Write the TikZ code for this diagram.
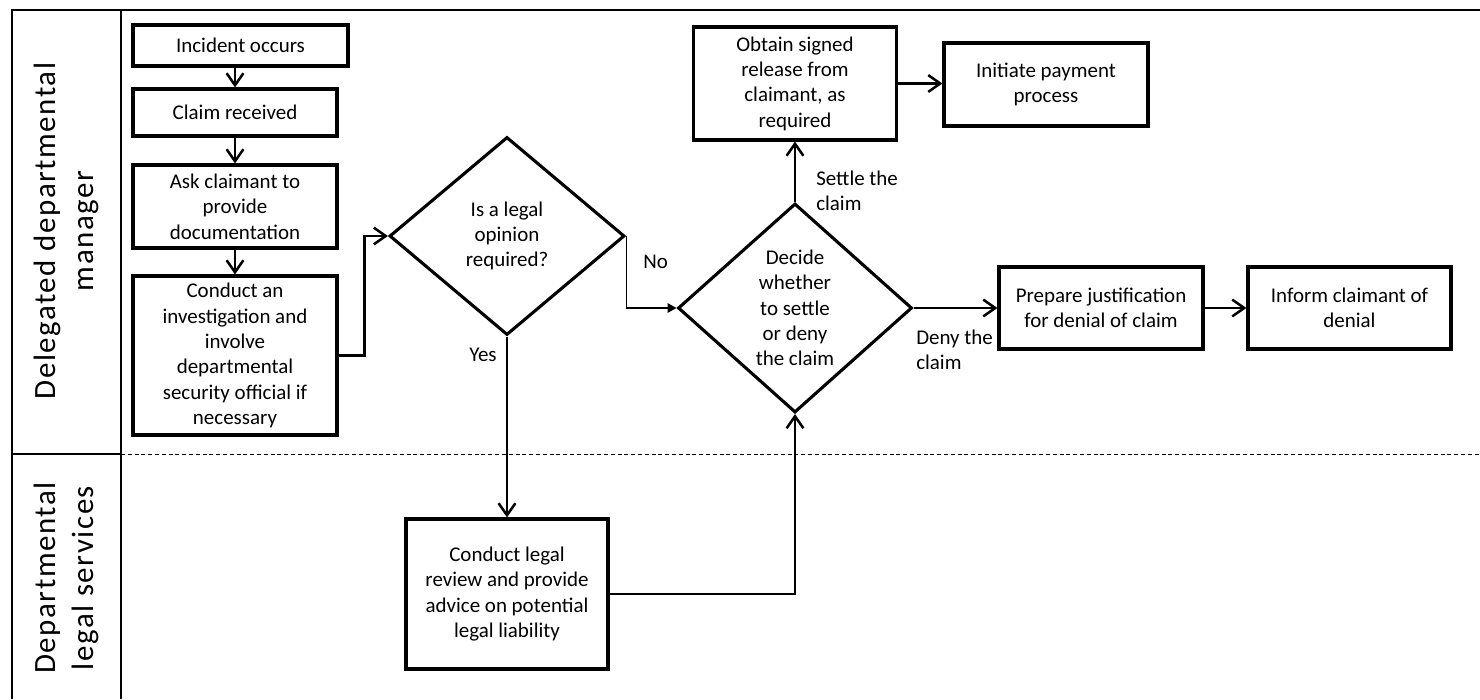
\documentclass[tikz,border=0pt]{standalone}
\usepackage{fontspec}
\setmainfont{Carlito}
\newfontfamily\lanefont[LetterSpace=5]{Carlito}
\usetikzlibrary{arrows.meta,shapes.geometric}

\tikzset{
    stepbox/.style={draw, line width=2.2pt, inner sep=0pt, align=center,
        font=\fontsize{14.9}{18}\selectfont},
    choice/.style={draw, shape=diamond, line width=2.2pt, inner sep=0pt, align=center,
        font=\fontsize{14.9}{18}\selectfont},
    flow/.style={line width=1.8pt, -{Straight Barb[length=3mm,width=4.2mm,line width=1.8pt]}},
    thinflow/.style={line width=0.8pt, -{Triangle[length=2.2mm,width=2.4mm]}},
    lbl/.style={align=left, inner sep=0pt, font=\fontsize{14.9}{18}\selectfont},
    lane/.style={rotate=90, align=center, inner sep=0pt, font=\lanefont\fontsize{22}{27}\selectfont}
}

\begin{document}
\begin{tikzpicture}[x=0.025cm, y=-0.025cm]
    \useasboundingbox (0,0) rectangle (1480,699);

    % swimlanes
    \draw[line width=2pt] (12,699) -- (12,10) -- (1480,10);
    \draw[line width=2pt] (121,10) -- (121,699);
    \draw[line width=2pt] (12,454) -- (121,454);
    \draw[line width=0.6pt, dash pattern=on 1mm off 0.7mm] (121,454) -- (1480,454);
    \node[lane] (mgr) at (66.5,231) {Delegated departmental\\manager};
    \node[lane] (lgs) at (66.5,578) {Departmental\\legal services};

    % steps
    \node[stepbox, minimum width=5.375cm, minimum height=1.025cm] (inc) at (240.5,45.5) {Incident occurs};
    \node[stepbox, minimum width=5.1cm, minimum height=1.175cm] (clm) at (235,112.5) {Claim received};
    \node[stepbox, minimum width=5.1cm, minimum height=2.075cm] (ask) at (235,206.5) {Ask claimant to\\provide\\documentation};
    \node[stepbox, minimum width=5.1cm, minimum height=3.975cm] (inv) at (235,355.5) {Conduct an\\investigation and\\involve\\departmental\\security official if\\necessary};
    \node[choice, minimum width=5.875cm, minimum height=4.95cm] (opn) at (507,236) {Is a legal\\opinion\\required?};
    \node[choice, minimum width=5.85cm, minimum height=5.225cm] (dec) at (795,308) {Decide\\whether\\to settle\\or deny\\the claim};
    \node[stepbox, minimum width=5.075cm, minimum height=2.825cm] (obt) at (795,83.5) {Obtain signed\\release from\\claimant, as\\required};
    \node[stepbox, minimum width=5.1cm, minimum height=2.075cm] (ini) at (1046,84.5) {Initiate payment\\process};
    \node[stepbox, minimum width=5.1cm, minimum height=2.05cm] (prp) at (1101,308) {Prepare justification\\for denial of claim};
    \node[stepbox, minimum width=5.075cm, minimum height=2.05cm] (inf) at (1349.5,308) {Inform claimant of\\denial};
    \node[stepbox, minimum width=5.05cm, minimum height=3.75cm] (lgl) at (507,594) {Conduct legal\\review and provide\\advice on potential\\legal liability};

    % connectors
    \draw[flow] (clm.north |- inc.south) -- (clm.north);
    \draw[flow] (clm.south) -- (ask.north);
    \draw[flow] (ask.south) -- (inv.north);
    \draw[flow] (inv.east) -- ++(26,0) |- (opn.west);
    \draw[thinflow] (opn.east) |- (dec.west);
    \draw[flow] (opn.south) -- (lgl.north);
    \draw[flow] (lgl.east) -| (dec.south);
    \draw[flow] (dec.north) -- (obt.south);
    \draw[flow] (obt.east) -- (obt.east -| ini.west);
    \draw[flow] (dec.east) -- (prp.west);
    \draw[flow] (prp.east) -- (inf.west);

    % branch labels
    \node[lbl, anchor=west] (no) at (643,262) {No};
    \node[lbl] (yes) at (483,355) {Yes};
    \node[lbl, anchor=west] (settle) at (816,191) {Settle the\\claim};
    \node[lbl, anchor=west] (deny) at (916,350) {Deny the\\claim};
\end{tikzpicture}
\end{document}
